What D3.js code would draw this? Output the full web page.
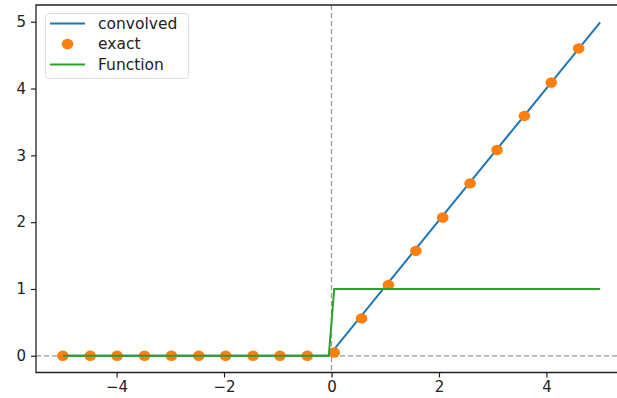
<!DOCTYPE html>
<html>
<head>
<meta charset="utf-8">
<script src="https://cdn.jsdelivr.net/npm/d3@7"></script>
<style>
  body { margin: 0; background: #fff; }
  svg { display: block; font-family: "DejaVu Sans", sans-serif; }
</style>
</head>
<body>
<svg id="chart" width="617" height="398"></svg>
<script>
// convolved ramp (blue line), breakpoints
const convX = [-5, -0.0505, 5];
const convY = [0, 0, 4.99];

// exact samples (orange dots)
const exactX = [-5, -4.49, -3.99, -3.48, -2.98, -2.47, -1.97, -1.46, -0.96, -0.45,
                0.05, 0.56, 1.06, 1.57, 2.07, 2.58, 3.08, 3.59, 4.09, 4.6];
const exactY = [0, 0, 0, 0, 0, 0, 0, 0, 0, 0,
                0.05, 0.56, 1.06, 1.57, 2.07, 2.58, 3.08, 3.59, 4.09, 4.6];

// step function (green line)
const funcX = [-5, -0.0505, 0.0505, 5];
const funcY = [0, 0, 1, 1];

const xTicks = [-4, -2, 0, 2, 4];
const yTicks = [0, 1, 2, 3, 4, 5];

const legendItems = [
    { label: "convolved", kind: "line", color: "#1f77b4" },
    { label: "exact", kind: "dot", color: "#ff7f0e" },
    { label: "Function", kind: "line", color: "#2ca02c" }
];

const svg = d3.select("#chart");
const m = { left: 36, top: 5, right: 627, bottom: 372.5 };

const x = d3.scaleLinear().domain([-5.5, 5.5]).range([m.left, m.right]);
const y = d3.scaleLinear().domain([-0.25, 5.25]).range([m.bottom, m.top]);

// reference lines
svg.append("line")
    .attr("x1", m.left).attr("x2", m.right)
    .attr("y1", y(0)).attr("y2", y(0))
    .attr("stroke", "#999").attr("stroke-width", 1.3)
    .attr("stroke-dasharray", "5,3");
svg.append("line")
    .attr("x1", x(0)).attr("x2", x(0))
    .attr("y1", m.top).attr("y2", m.bottom)
    .attr("stroke", "#999").attr("stroke-width", 1.3)
    .attr("stroke-dasharray", "5,3");

const line = d3.line().x(d => x(d[0])).y(d => y(d[1]));

svg.append("path")
    .datum(convX.map((v, i) => [v, convY[i]]))
    .attr("d", line)
    .attr("fill", "none")
    .attr("stroke", "#1f77b4")
    .attr("stroke-width", 2);

svg.append("g")
    .selectAll("ellipse")
    .data(exactX.map((v, i) => [v, exactY[i]]))
    .join("ellipse")
    .attr("cx", d => x(d[0]))
    .attr("cy", d => y(d[1]))
    .attr("rx", 5.8).attr("ry", 5.2)
    .attr("fill", "#ff7f0e");

svg.append("path")
    .datum(funcX.map((v, i) => [v, funcY[i]]))
    .attr("d", line)
    .attr("fill", "none")
    .attr("stroke", "#2ca02c")
    .attr("stroke-width", 2);

// axes
const xAxis = svg.append("g")
    .attr("transform", `translate(0,${m.bottom})`)
    .call(d3.axisBottom(x).tickValues(xTicks).tickSize(5).tickPadding(4)
        .tickFormat(d => d < 0 ? "\u2212" + Math.abs(d) : d));
const yAxis = svg.append("g")
    .attr("transform", `translate(${m.left},0)`)
    .call(d3.axisLeft(y).tickValues(yTicks).tickSize(5).tickPadding(5)
        .tickFormat(d3.format("d")));

[xAxis, yAxis].forEach(g => {
    g.select(".domain").remove();
    g.selectAll("line").attr("stroke", "#222").attr("stroke-width", 1.2);
    g.selectAll("text").attr("fill", "#222").attr("font-size", 15)
        .attr("font-family", "DejaVu Sans, sans-serif");
});

// spines
svg.append("path")
    .attr("d", `M${m.right},${m.top}H${m.left}V${m.bottom}H${m.right}`)
    .attr("fill", "none")
    .attr("stroke", "#222")
    .attr("stroke-width", 1.3);

// legend
const lg = svg.append("g");
lg.append("rect")
    .attr("x", 45.5).attr("y", 13.5)
    .attr("width", 143).attr("height", 65)
    .attr("rx", 3)
    .attr("fill", "#fff").attr("fill-opacity", 0.8)
    .attr("stroke", "#ddd");

const rows = lg.selectAll("g.item")
    .data(legendItems)
    .join("g")
    .attr("class", "item")
    .attr("transform", (d, i) => `translate(0,${23.5 + i * 20.5})`);

rows.filter(d => d.kind === "line").append("line")
    .attr("x1", 50).attr("x2", 85)
    .attr("stroke", d => d.color).attr("stroke-width", 2);
rows.filter(d => d.kind === "dot").append("ellipse")
    .attr("cx", 67.5).attr("rx", 5.8).attr("ry", 5.2)
    .attr("fill", d => d.color);
rows.append("text")
    .attr("x", 98).attr("dy", "0.35em")
    .attr("font-size", 15.5)
    .attr("fill", "#222")
    .text(d => d.label);
</script>
</body>
</html>
